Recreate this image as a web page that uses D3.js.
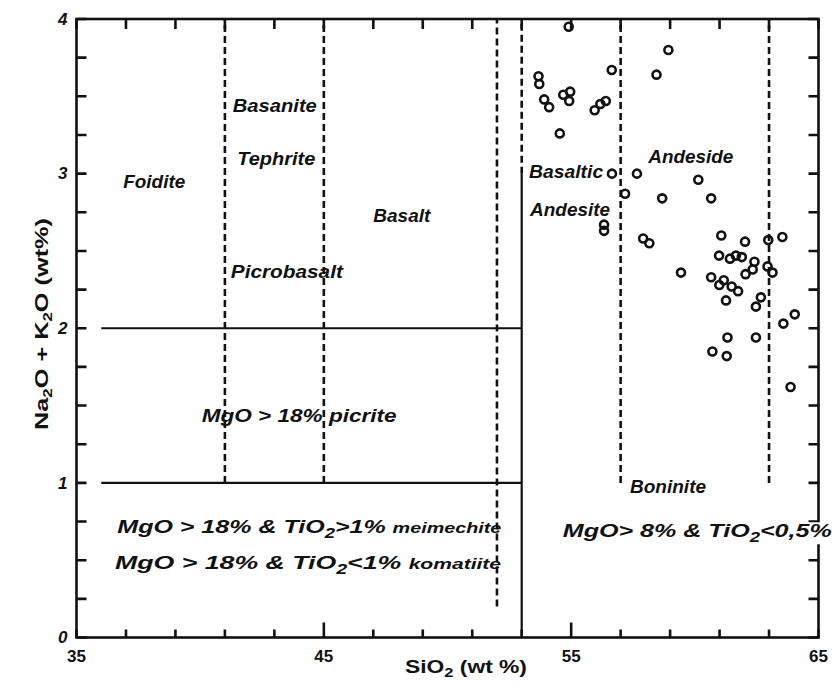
<!DOCTYPE html>
<html>
<head>
<meta charset="utf-8">
<script src="https://cdn.jsdelivr.net/npm/d3@7"></script>
<style>
  body { margin: 0; background: #fff; }
  svg { display: block; }
  text { font-family: "Liberation Sans", Arial, sans-serif; font-weight: bold; fill: #111; }
</style>
</head>
<body>
<div id="vis"></div>
<script>
// ************************** DATA **************************//

// SiO2 (wt %) and Na2O + K2O (wt %) of the samples
var sio2 = [54.90, 58.93, 56.64, 58.45, 53.68, 53.71, 53.91, 54.11, 54.68, 54.96,
            54.92, 55.95, 56.18, 56.40, 54.54, 56.65, 57.66, 57.18, 58.68, 60.14,
            60.66, 56.33, 56.33, 57.91, 58.16, 61.07, 62.03, 62.97, 63.54, 59.44,
            60.98, 61.42, 61.66, 61.90, 62.41, 62.34, 62.05, 62.94, 63.14, 60.66,
            60.99, 61.17, 61.49, 61.75, 61.26, 62.67, 62.47, 63.58, 64.04, 61.32,
            62.47, 60.71, 61.29, 63.87];
var alkali = [3.95, 3.80, 3.67, 3.64, 3.63, 3.58, 3.48, 3.43, 3.51, 3.53,
              3.47, 3.41, 3.45, 3.47, 3.26, 3.00, 3.00, 2.87, 2.84, 2.96,
              2.84, 2.67, 2.63, 2.58, 2.55, 2.60, 2.56, 2.57, 2.59, 2.36,
              2.47, 2.45, 2.47, 2.46, 2.43, 2.38, 2.35, 2.40, 2.36, 2.33,
              2.28, 2.31, 2.27, 2.24, 2.18, 2.20, 2.14, 2.03, 2.09, 1.94,
              1.94, 1.85, 1.82, 1.62];

// axis labels
var xLabels = [35, 45, 55, 65];
var yLabels = [0, 1, 2, 3, 4];
var xMajor = [45, 55];

// field boundaries (data units)
var solidLines = [
  [36, 2, 53, 2],
  [36, 1, 53, 1],
  [53, 0, 53, 3]
];
var dashedLines = [
  [41, 1, 41, 4],
  [45, 1, 45, 4],
  [52, 0.2, 52, 4],
  [53, 3, 53, 4],
  [57, 1, 57, 4],
  [63, 1, 63, 4]
];

// field names: parts are [text, kind]  kind: "sub" or "small"
var fieldLabels = [
  { parts: [["Foidite"]], si: 36.89, na: 2.906, w: 62 },
  { parts: [["Basanite"]], si: 41.32, na: 3.40, w: 84 },
  { parts: [["Tephrite"]], si: 41.50, na: 3.056, w: 78 },
  { parts: [["Picrobasalt"]], si: 41.24, na: 2.323, w: 112 },
  { parts: [["Basalt"]], si: 47.0, na: 2.69, w: 57 },
  { parts: [["Basaltic"]], si: 53.30, na: 2.974, w: 74 },
  { parts: [["Andesite"]], si: 53.34, na: 2.726, w: 80 },
  { parts: [["Andeside"]], si: 58.12, na: 3.067, w: 85 },
  { parts: [["Boninite"]], si: 57.38, na: 0.933, w: 76 },
  { parts: [["MgO > 18% picrite"]], si: 40.06, na: 1.396, w: 195 },
  { parts: [["MgO > 18% & TiO"], ["2", "sub"], [">1% "], ["meimechite", "small"]], si: 36.65, na: 0.674, w: 384 },
  { parts: [["MgO > 18% & TiO"], ["2", "sub"], ["<1% "], ["komatiite", "small"]], si: 36.56, na: 0.443, w: 386 },
  { parts: [["MgO> 8% & TiO"], ["2", "sub"], ["<0,5%"]], si: 54.66, na: 0.648, w: 269, knock: true }
];

// ************************** SCALES **************************//

var width = 839, height = 686;

var x = d3.scaleLinear().domain([35, 65]).range([76.5, 818.5]);
var y = d3.scaleLinear().domain([0, 4]).range([637.5, 19]);

var xTicks = d3.range(35, 66, 2);
var yTicks = d3.range(0, 4.01, 0.25);

var svg = d3.select("#vis").append("svg")
  .attr("width", width)
  .attr("height", height);

svg.append("rect").attr("width", width).attr("height", height).attr("fill", "#fff");

// ************************** FIELD BOUNDARIES **************************//

svg.append("g").selectAll("line")
  .data(solidLines)
  .join("line")
  .attr("x1", d => x(d[0])).attr("y1", d => y(d[1]))
  .attr("x2", d => x(d[2])).attr("y2", d => y(d[3]))
  .attr("stroke", "#111").attr("stroke-width", 2.2);

svg.append("g").selectAll("line")
  .data(dashedLines)
  .join("line")
  .attr("x1", d => x(d[0])).attr("y1", d => y(d[1]))
  .attr("x2", d => x(d[2])).attr("y2", d => y(d[3]))
  .attr("stroke", "#111").attr("stroke-width", 2.6)
  .attr("stroke-dasharray", "7,4");

// ************************** FIELD NAMES **************************//

function drawLabel(parent, l) {
  var lg = parent.append("g");
  var t = lg.append("text")
    .attr("x", x(l.si)).attr("y", y(l.na))
    .attr("font-size", "19px").attr("font-style", "italic")
    .attr("textLength", l.w).attr("lengthAdjust", "spacingAndGlyphs");
  var shift = 0;
  l.parts.forEach(function(p) {
    var s = t.append("tspan").text(p[0]);
    if (p[1] === "sub") {
      s.attr("font-size", "14px").attr("dy", 5 - shift); shift = 5;
    } else {
      if (shift) { s.attr("dy", -shift); shift = 0; }
      if (p[1] === "small") s.attr("font-size", "15px");
    }
  });
  if (l.knock) {
    var b = t.node().getBBox();
    lg.insert("rect", "text")
      .attr("x", b.x - 2).attr("y", b.y + 2)
      .attr("width", b.width + 4).attr("height", b.height - 3)
      .attr("fill", "#fff");
  }
}

var labelLayer = svg.append("g");
fieldLabels.filter(l => !l.knock).forEach(l => drawLabel(labelLayer, l));

// ************************** SAMPLES **************************//

svg.append("g").selectAll("circle")
  .data(sio2.map((d, i) => ({ si: d, na: alkali[i] })))
  .join("circle")
  .attr("cx", d => x(d.si))
  .attr("cy", d => y(d.na))
  .attr("r", 4)
  .attr("fill", "none")
  .attr("stroke", "#111")
  .attr("stroke-width", 2.6);

// ************************** FRAME AND TICKS **************************//

// all inward ticks in one path, built from the scales
var tp = d3.path();
xTicks.forEach(function(t) {
  tp.moveTo(x(t), y(0)); tp.lineTo(x(t), y(0) - (xMajor.includes(t) ? 15 : 8));
  tp.moveTo(x(t), y(4)); tp.lineTo(x(t), y(4) + 10);
});
yTicks.forEach(function(t) {
  tp.moveTo(x(35), y(t)); tp.lineTo(x(35) + 10, y(t));
  tp.moveTo(x(65), y(t)); tp.lineTo(x(65) - 10, y(t));
});

svg.append("path")
  .attr("d", tp.toString())
  .attr("fill", "none")
  .attr("stroke", "#111")
  .attr("stroke-width", 2.6);

svg.append("rect")
  .attr("x", x(35)).attr("y", y(4))
  .attr("width", x(65) - x(35)).attr("height", y(0) - y(4))
  .attr("fill", "none").attr("stroke", "#111").attr("stroke-width", 2.6);

// tick labels
svg.append("g").selectAll("text")
  .data(xLabels)
  .join("text")
  .attr("x", d => x(d)).attr("y", y(0) + 12).attr("dy", "0.71em")
  .attr("text-anchor", "middle").attr("font-size", "17px")
  .text(d => d);

svg.append("g").selectAll("text")
  .data(yLabels)
  .join("text")
  .attr("x", x(35) - 9).attr("y", d => y(d)).attr("dy", "0.34em")
  .attr("text-anchor", "end").attr("font-size", "17px").attr("font-style", "italic")
  .text(d => d);

// axis titles
var xt = svg.append("text")
  .attr("x", 405).attr("y", 673)
  .attr("font-size", "18px")
  .attr("textLength", 122).attr("lengthAdjust", "spacingAndGlyphs");
xt.append("tspan").text("SiO");
xt.append("tspan").attr("font-size", "13px").attr("dy", 4).text("2");
xt.append("tspan").attr("dy", -4).text(" (wt %)");

var yt = svg.append("text")
  .attr("transform", "translate(48,324) rotate(-90)")
  .attr("text-anchor", "middle")
  .attr("font-size", "18px")
  .attr("textLength", 212).attr("lengthAdjust", "spacingAndGlyphs");
yt.append("tspan").text("Na");
yt.append("tspan").attr("font-size", "12px").attr("dy", 4).text("2");
yt.append("tspan").attr("dy", -4).text("O + K");
yt.append("tspan").attr("font-size", "12px").attr("dy", 4).text("2");
yt.append("tspan").attr("dy", -4).text("O  (wt%)");

// the Boninite condition runs over the right frame
fieldLabels.filter(l => l.knock).forEach(l => drawLabel(svg, l));
</script>
</body>
</html>
